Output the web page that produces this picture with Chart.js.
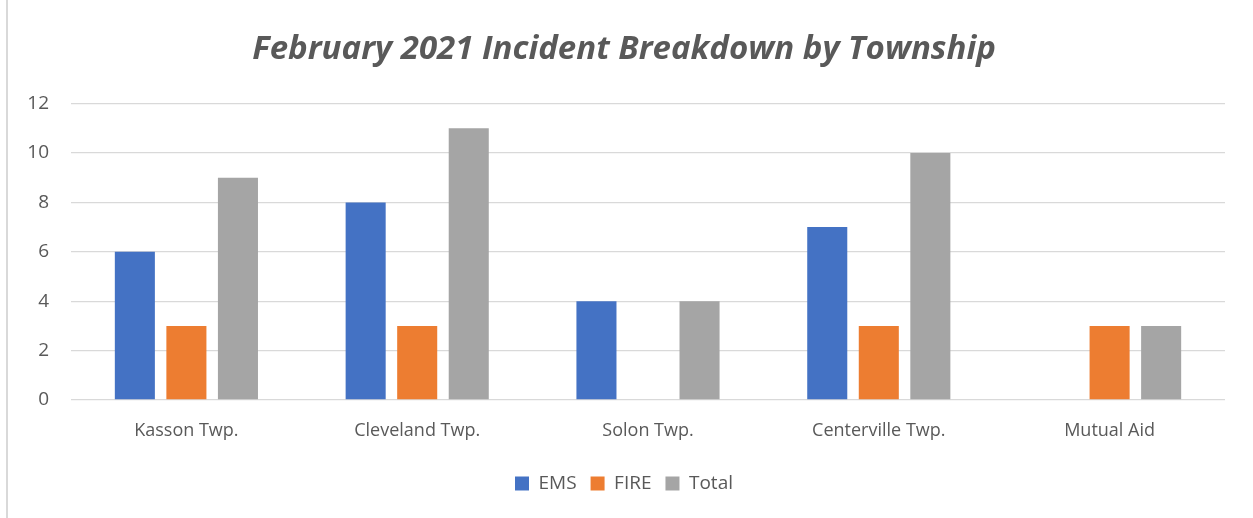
<!DOCTYPE html>
<html>
<head>
<meta charset="utf-8">
<script src="https://cdn.jsdelivr.net/npm/chart.js@4/dist/chart.umd.min.js"></script>
<style>
  html, body { margin: 0; padding: 0; background: #fff; }
  #wrap { position: relative; width: 1253px; height: 518px; }
  #frame { position: absolute; left: 6px; top: 0; width: 1247px; height: 518px;
           border-left: 2px solid #d9d9d9; box-sizing: border-box; pointer-events: none; }
</style>
</head>
<body>
<div id="wrap">
  <canvas id="incidentChart" width="1253" height="518"></canvas>
  <div id="frame"></div>
</div>
<script>
// Incidentes de fevereiro 2021 por township
const townships = ['Kasson Twp.', 'Cleveland Twp.', 'Solon Twp.', 'Centerville Twp.', 'Mutual Aid'];
const emsValues = [6, 8, 4, 7, 0];
const fireValues = [3, 3, 0, 3, 3];
const totalValues = [9, 11, 4, 10, 3];

const textColor = '#595959';
const fontFamily = '"Open Sans", "Liberation Sans", sans-serif';

document.addEventListener('DOMContentLoaded', function() {
    const ctx = document.getElementById('incidentChart').getContext('2d');
    new Chart(ctx, {
        type: 'bar',
        data: {
            labels: townships,
            datasets: [
                { label: 'EMS', data: emsValues, backgroundColor: '#4472C4' },
                { label: 'FIRE', data: fireValues, backgroundColor: '#ED7D31' },
                { label: 'Total', data: totalValues, backgroundColor: '#A5A5A5' }
            ]
        },
        options: {
            responsive: false,
            animation: false,
            categoryPercentage: 0.67,
            barPercentage: 0.777,
            layout: { padding: { left: 23, right: 28, top: 0, bottom: 15 } },
            scales: {
                x: {
                    grid: { display: false },
                    border: { display: false },
                    ticks: { color: textColor, font: { family: fontFamily, size: 18 }, padding: 12 },
                    afterFit: function(scale) { scale.height = 60; }
                },
                y: {
                    min: 0,
                    max: 12,
                    ticks: { stepSize: 2, color: textColor, font: { family: fontFamily, size: 19 }, padding: 22 },
                    grid: { color: '#d9d9d9', lineWidth: 1.3, drawTicks: false },
                    border: { display: false },
                    afterFit: function(scale) { scale.width = 48; }
                }
            },
            plugins: {
                title: {
                    display: true,
                    text: 'February 2021 Incident Breakdown by Township',
                    color: textColor,
                    font: { family: fontFamily, size: 33, weight: 'bold', style: 'italic' },
                    padding: { top: 30, bottom: 34 }
                },
                legend: {
                    position: 'bottom',
                    labels: {
                        color: textColor,
                        font: { family: fontFamily, size: 19 },
                        boxWidth: 14,
                        boxHeight: 14,
                        padding: 14
                    }
                },
                tooltip: { enabled: false }
            }
        }
    });
});
</script>
</body>
</html>
